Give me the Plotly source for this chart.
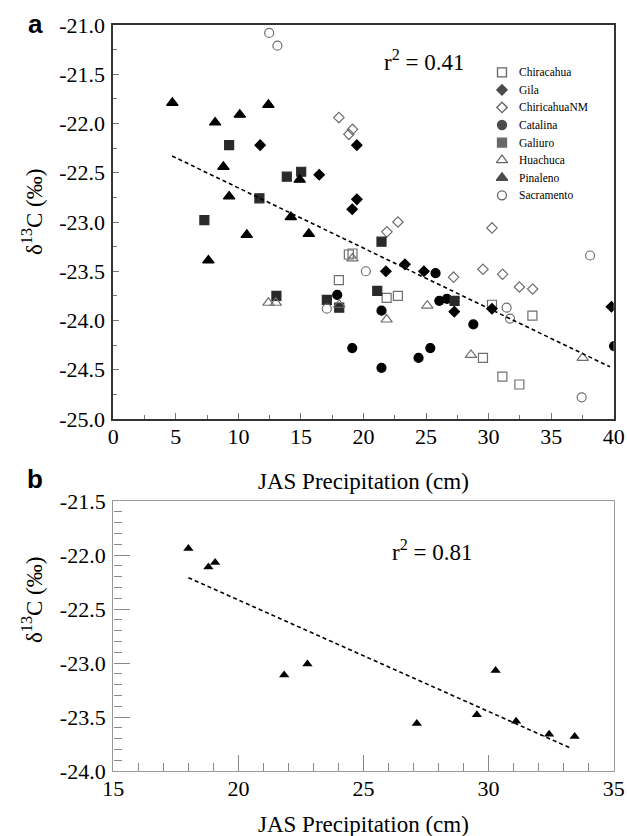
import plotly.graph_objects as go

# ---------------- Panel a data ----------------
chiracahua_x = [18.83, 19.12, 18.03, 21.85, 22.75, 30.27, 33.5, 29.55, 31.1, 32.46]
chiracahua_y = [-23.33, -23.32, -23.59, -23.77, -23.75, -23.84, -23.95, -24.38, -24.57, -24.65]

gila_x = [11.74, 19.47, 16.46, 19.47, 19.1, 23.31, 21.79, 24.83, 27.26, 30.27, 39.82]
gila_y = [-22.22, -22.22, -22.52, -22.77, -22.87, -23.43, -23.50, -23.50, -23.91, -23.88, -23.86]

chiricahuanm_x = [18.03, 19.12, 18.83, 22.75, 21.87, 30.27, 27.2, 29.55, 31.12, 32.46, 33.52]
chiricahuanm_y = [-21.94, -22.06, -22.11, -23.0, -23.10, -23.06, -23.56, -23.48, -23.53, -23.66, -23.68]

catalina_x = [25.76, 17.9, 21.44, 26.06, 26.67, 19.1, 21.44, 24.4, 25.34, 28.78, 40.03]
catalina_y = [-23.52, -23.74, -23.90, -23.80, -23.78, -24.28, -24.48, -24.38, -24.28, -24.04, -24.26]

galiuro_x = [9.26, 11.68, 7.28, 13.87, 15.02, 21.44, 21.1, 17.07, 13.04, 27.28, 18.06]
galiuro_y = [-22.22, -22.76, -22.98, -22.54, -22.49, -23.20, -23.70, -23.79, -23.75, -23.80, -23.87]

huachuca_x = [19.12, 12.4, 12.99, 18.06, 21.85, 25.1, 28.59, 37.52]
huachuca_y = [-23.37, -23.82, -23.82, -23.84, -23.99, -23.85, -24.35, -24.38]

pinaleno_x = [4.72, 8.14, 10.11, 12.4, 8.8, 9.26, 10.67, 7.6, 14.9, 14.19, 15.63]
pinaleno_y = [-21.79, -21.99, -21.91, -21.81, -22.44, -22.74, -23.13, -23.39, -22.57, -22.95, -23.12]

sacramento_x = [12.46, 13.12, 20.19, 17.07, 31.44, 31.71, 38.11, 37.44]
sacramento_y = [-21.08, -21.21, -23.50, -23.88, -23.87, -23.98, -23.34, -24.78]

trend_a_x = [4.7, 39.7]
trend_a_y = [-22.33, -24.47]

# ---------------- Panel b data ----------------
b_x = [18.0, 18.8, 19.07, 21.83, 22.76, 27.13, 29.53, 30.28, 31.1, 32.42, 33.44]
b_y = [-21.94, -22.11, -22.07, -23.11, -23.01, -23.56, -23.48, -23.07, -23.54, -23.66, -23.68]
trend_b_x = [18.0, 33.3]
trend_b_y = [-22.21, -23.79]

# ---------------- Tick labels ----------------
xa_ticks = [0, 5, 10, 15, 20, 25, 30, 35, 40]
xa_text = ["0", "5", "10", "15", "20", "25", "30", "35", "40"]
ya_ticks = [-25.0, -24.5, -24.0, -23.5, -23.0, -22.5, -22.0, -21.5, -21.0]
ya_text = ["-25.0", "-24.5", "-24.0", "-23.5", "-23.0", "-22.5", "-22.0", "-21.5", "-21.0"]
xb_ticks = [15, 20, 25, 30, 35]
xb_text = ["15", "20", "25", "30", "35"]
yb_ticks = [-24.0, -23.5, -23.0, -22.5, -22.0, -21.5]
yb_text = ["-24.0", "-23.5", "-23.0", "-22.5", "-22.0", "-21.5"]

W, H = 627, 836
FONT = "Liberation Serif"
GRAY = "#6e6e6e"

def px(x):
    return x / W

def py(y):
    return 1 - y / H

fig = go.Figure()

series = [
    ("Chiracahua", chiracahua_x, chiracahua_y, "square-open", 9, GRAY),
    ("Gila", gila_x, gila_y, "diamond", 8, "black"),
    ("ChiricahuaNM", chiricahuanm_x, chiricahuanm_y, "diamond-open", 8, GRAY),
    ("Catalina", catalina_x, catalina_y, "circle", 9, "black"),
    ("Galiuro", galiuro_x, galiuro_y, "square", 9, "#2a2a2a"),
    ("Huachuca", huachuca_x, huachuca_y, "triangle-up-open", 10, GRAY),
    ("Pinaleno", pinaleno_x, pinaleno_y, "triangle-up", 10, "black"),
    ("Sacramento", sacramento_x, sacramento_y, "circle-open", 9, GRAY),
]

for name, xs, ys, sym, sz, col in series:
    fig.add_trace(go.Scatter(
        x=xs, y=ys, mode="markers", name=name,
        marker=dict(symbol=sym, size=sz, color=col, line=dict(width=1.2, color=col)),
        xaxis="x", yaxis="y", showlegend=False))

fig.add_trace(go.Scatter(x=trend_a_x, y=trend_a_y, mode="lines",
                         line=dict(color="black", width=1.6, dash="4px,3px"),
                         xaxis="x", yaxis="y", showlegend=False))

fig.add_trace(go.Scatter(x=b_x, y=b_y, mode="markers",
                         marker=dict(symbol="triangle-up", size=9, color="black"),
                         xaxis="x2", yaxis="y2", showlegend=False))
fig.add_trace(go.Scatter(x=trend_b_x, y=trend_b_y, mode="lines",
                         line=dict(color="black", width=1.6, dash="4px,3px"),
                         xaxis="x2", yaxis="y2", showlegend=False))

# ---------------- Manual legend (compact row spacing) ----------------
leg_names = [s[0] for s in series]
leg_idx = list(range(len(series)))
leg_colors = ["#222" if "open" in s[3] else s[5] for s in series]
fig.add_trace(go.Scatter(
    x=[0] * len(series), y=leg_idx, mode="markers", showlegend=False, hoverinfo="skip",
    marker=dict(symbol=[s[3] for s in series], size=[s[4] for s in series],
                color=leg_colors, line=dict(width=1.3, color=leg_colors)),
    xaxis="x3", yaxis="y3"))

xdom = [px(113.3), px(613.7)]
tickfont = dict(family=FONT, size=22, color="black")

fig.update_layout(
    width=W, height=H,
    margin=dict(l=0, r=0, t=0, b=0),
    paper_bgcolor="white", plot_bgcolor="rgba(0,0,0,0)",
    font=dict(family=FONT, color="black"),
    showlegend=False,
    xaxis=dict(domain=xdom, anchor="y", range=[0, 40], tickmode="array",
               tickvals=xa_ticks, ticktext=xa_text, ticks="inside", ticklen=6,
               tickcolor="#777", tickwidth=1, tickfont=tickfont,
               showline=True, linecolor="#333", linewidth=1.6, mirror=True,
               showgrid=False, zeroline=False, automargin=False,
               ticklabelstandoff=-3,
               minor=dict(dtick=2.5, tick0=0, ticks="inside", ticklen=4,
                          tickcolor="#777", showgrid=False)),
    yaxis=dict(domain=[py(419), py(25)], anchor="x", range=[-25, -21], tickmode="array",
               tickvals=ya_ticks, ticktext=ya_text, ticks="inside", ticklen=6,
               tickcolor="#777", tickwidth=1, tickfont=tickfont,
               showline=True, linecolor="#333", linewidth=1.6, mirror=True,
               showgrid=False, zeroline=False, automargin=False,
               ticklabelstandoff=2,
               minor=dict(dtick=0.25, tick0=-25, ticks="inside", ticklen=4,
                          tickcolor="#777", showgrid=False)),
    xaxis2=dict(domain=xdom, anchor="y2", range=[15, 35], tickmode="array",
                tickvals=xb_ticks, ticktext=xb_text, ticks="inside", ticklen=16,
                tickcolor="#888", tickwidth=1, tickfont=tickfont,
                showline=True, linecolor="#999", linewidth=1.4, mirror=True,
                showgrid=False, zeroline=False, automargin=False,
                ticklabelstandoff=-3,
                minor=dict(dtick=1, tick0=15, ticks="inside", ticklen=8,
                           tickcolor="#888", showgrid=False)),
    yaxis2=dict(domain=[py(771), py(501)], anchor="x2", range=[-24, -21.5], tickmode="array",
                tickvals=yb_ticks, ticktext=yb_text, ticks="inside", ticklen=16,
                tickcolor="#888", tickwidth=1, tickfont=tickfont,
                showline=True, linecolor="#999", linewidth=1.4, mirror=True,
                showgrid=False, zeroline=False, automargin=False,
                ticklabelstandoff=2,
                minor=dict(dtick=0.1, tick0=-24, ticks="inside", ticklen=8,
                           tickcolor="#888", showgrid=False)),
    xaxis3=dict(domain=[px(496), px(508)], anchor="y3", range=[-1, 1], visible=False,
                fixedrange=True),
    yaxis3=dict(domain=[py(72.3 + 17.57 * 7.5), py(72.3 - 17.57 * 0.5)], anchor="x3",
                range=[7.5, -0.5], visible=False, fixedrange=True),
)

ann = [
    dict(text="<b>a</b>", x=px(35), y=py(24), font=dict(family="Liberation Sans", size=26)),
    dict(text="<b>b</b>", x=px(35), y=py(479), font=dict(family="Liberation Sans", size=26)),
    dict(text="r<sup>2</sup> = 0.41", x=px(424), y=py(60), font=dict(family=FONT, size=23)),
    dict(text="r<sup>2</sup> = 0.81", x=px(432), y=py(550), font=dict(family=FONT, size=23)),
    dict(text="JAS Precipitation (cm)", x=px(363.5), y=py(482), font=dict(family=FONT, size=23)),
    dict(text="JAS Precipitation (cm)", x=px(363.5), y=py(824), font=dict(family=FONT, size=23)),
    dict(text="δ<sup>13</sup>C (‰)", x=px(32), y=py(212), textangle=-90, font=dict(family=FONT, size=23)),
    dict(text="δ<sup>13</sup>C (‰)", x=px(32), y=py(600), textangle=-90, font=dict(family=FONT, size=23)),
]
for a in ann:
    fig.add_annotation(xref="paper", yref="paper", showarrow=False,
                       xanchor="center", yanchor="middle", **a)

for i, name in zip(leg_idx, leg_names):
    fig.add_annotation(xref="paper", yref="y3", x=px(517), y=i, text=name,
                       showarrow=False, xanchor="left", yanchor="middle",
                       font=dict(family=FONT, size=11.5, color="black"))

fig.write_html("out.html",
               config={"displayModeBar": False},
               post_script="document.body.style.margin='0';document.body.style.overflow='hidden';")
